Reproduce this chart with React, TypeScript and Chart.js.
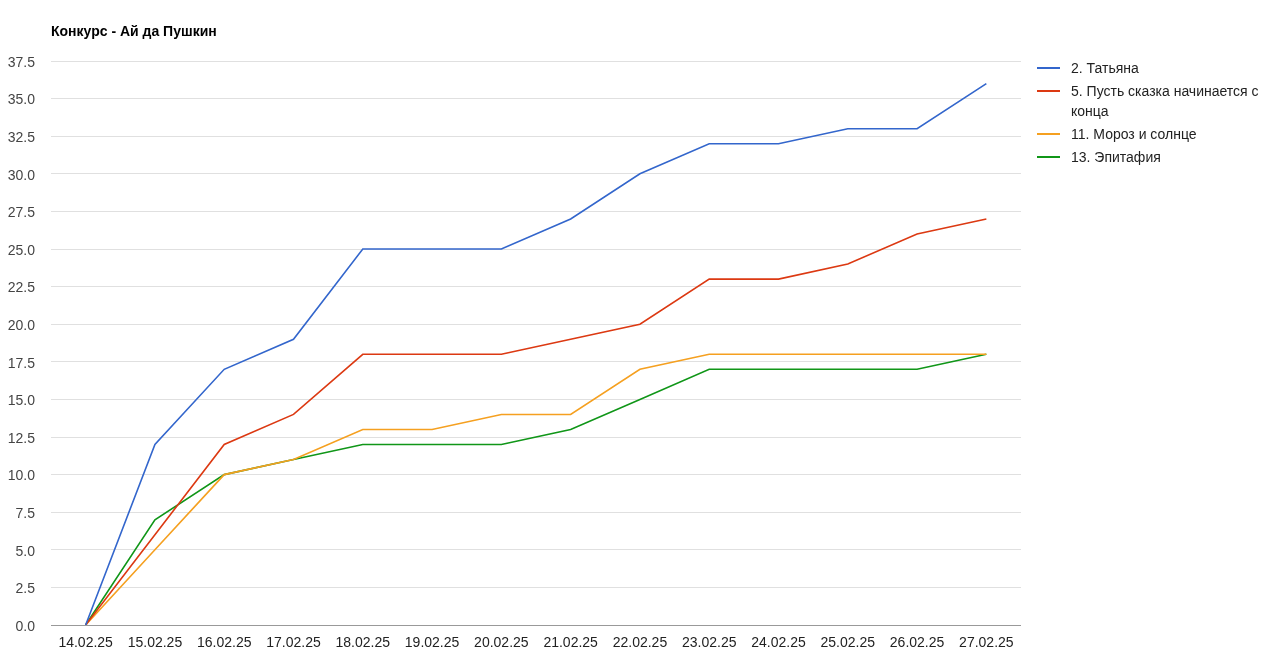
import React, { useEffect, useRef } from "react";
import { Chart, registerables } from "chart.js";

Chart.register(...registerables);

const title = "Конкурс - Ай да Пушкин";
const categories = ["14.02.25", "15.02.25", "16.02.25", "17.02.25", "18.02.25", "19.02.25", "20.02.25", "21.02.25", "22.02.25", "23.02.25", "24.02.25", "25.02.25", "26.02.25", "27.02.25"];
const seriesNames = ["2. Татьяна", "5. Пусть сказка начинается с конца", "11. Мороз и солнце", "13. Эпитафия"];
const tatyana = [0, 12, 17, 19, 25, 25, 25, 27, 30, 32, 32, 33, 33, 36];
const skazka = [0, 6, 12, 14, 18, 18, 18, 19, 20, 23, 23, 24, 26, 27];
const moroz = [0, 5, 10, 11, 13, 13, 14, 14, 17, 18, 18, 18, 18, 18];
const epitafia = [0, 7, 10, 11, 12, 12, 12, 13, 15, 17, 17, 17, 17, 18];
const colors = ["#3366cc", "#dc3912", "#f5a020", "#109618"];
const yMin = 0;
const yMax = 37.5;
const yStep = 2.5;

const FONT = "Arial, 'Liberation Sans', sans-serif";

export default function App() {
  const ref = useRef<HTMLCanvasElement | null>(null);

  useEffect(() => {
    if (!ref.current) return;
    const seriesData = [tatyana, skazka, moroz, epitafia];
    const chart = new Chart(ref.current, {
      type: "line",
      data: {
        labels: categories,
        datasets: seriesNames.map((name, i) => ({
          label: name,
          data: seriesData[i],
          borderColor: colors[i],
          backgroundColor: colors[i],
          borderWidth: 1.6,
          pointRadius: 0,
          tension: 0,
          fill: false,
        })),
      },
      options: {
        animation: false,
        responsive: false,
        maintainAspectRatio: false,
        layout: { padding: { top: 61, right: 260, bottom: 0, left: 0 } },
        plugins: {
          legend: { display: false },
          title: { display: false },
          tooltip: { enabled: false },
        },
        scales: {
          x: {
            type: "category",
            offset: true,
            grid: { display: false, drawTicks: false },
            border: { display: false },
            ticks: {
              color: "#222",
              font: { family: FONT, size: 14 },
              padding: 10,
              maxRotation: 0,
              autoSkip: false,
            },
            afterFit: (scale: any) => {
              scale.height = 46;
            },
          },
          y: {
            min: yMin,
            max: yMax,
            grid: {
              drawTicks: false,
              color: (ctx: any) => (ctx.tick && ctx.tick.value === 0 ? "#999999" : "#e0e0e0"),
              lineWidth: 1,
            },
            border: { display: false },
            ticks: {
              stepSize: yStep,
              color: "#444",
              font: { family: FONT, size: 14 },
              padding: 16,
              labelOffset: 2,
              callback: (v: any) => Number(v).toFixed(1),
            },
            afterFit: (scale: any) => {
              scale.width = 51;
            },
          },
        },
      },
    });
    return () => chart.destroy();
  }, []);

  const legendTop = [58, 81, 124, 147];

  return (
    <div style={{ position: "fixed", left: 0, top: 0, width: 1281, height: 671, background: "#fff", fontFamily: FONT }}>
      <canvas ref={ref} width={1281} height={671} style={{ position: "absolute", left: 0, top: 0, width: 1281, height: 671 }} />
      <div style={{ position: "absolute", left: 51, top: 23, fontSize: 14, fontWeight: "bold", color: "#000", whiteSpace: "nowrap" }}>{title}</div>
      {seriesNames.map((name, i) => (
        <div key={name} style={{ position: "absolute", left: 1037, top: legendTop[i], width: 244, display: "flex", alignItems: "flex-start" }}>
          <div style={{ width: 23, height: 2, background: colors[i], marginTop: 9, flex: "none" }} />
          <div style={{ marginLeft: 11, fontSize: 14, lineHeight: "20px", color: "#222", width: 205 }}>{name}</div>
        </div>
      ))}
    </div>
  );
}
